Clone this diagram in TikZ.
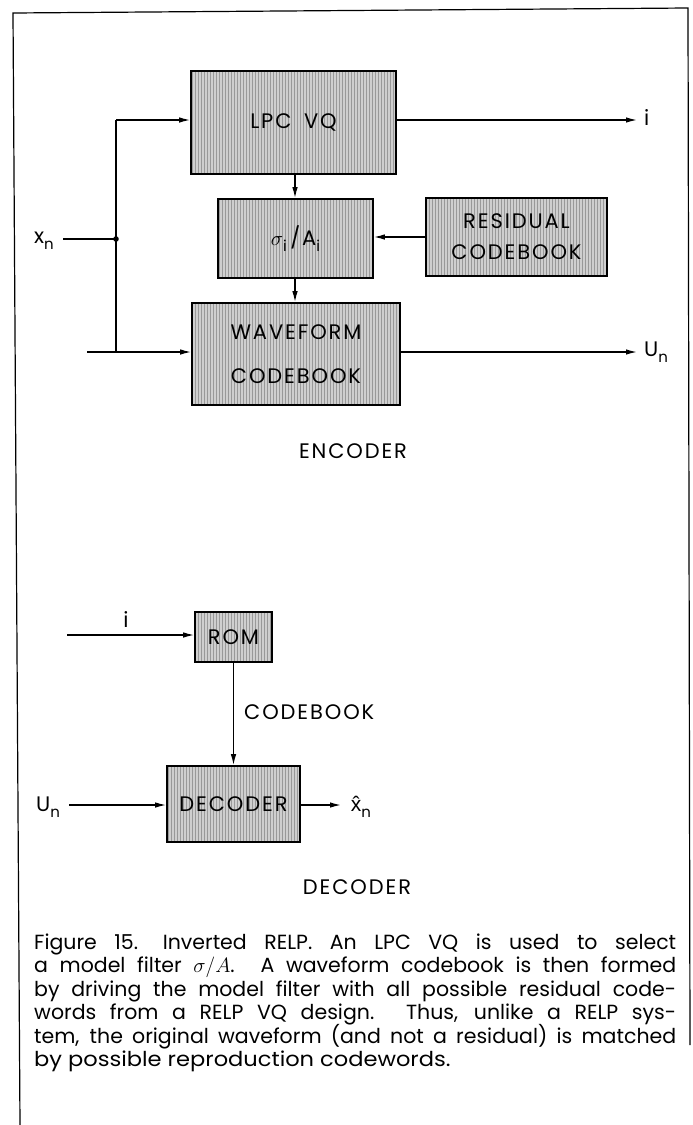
\documentclass[tikz,border=0pt]{standalone}
\usepackage{fontspec}
\setmainfont{Poppins}
\newfontfamily\labfont[LetterSpace=9]{Poppins}
\newfontfamily\lib{Liberation Sans}
\usetikzlibrary{arrows.meta,patterns}
\newcommand{\lsub}[1]{\raisebox{-0.5ex}{\fontsize{15}{15}\selectfont #1}}
\newcommand{\capline}[1]{\makebox[642pt][s]{#1}}
\begin{document}
\begin{tikzpicture}[x=1pt,y=-1pt,
  blk/.style={draw, line width=1.7pt, preaction={fill=black!19}, pattern=vertical lines, pattern color=black!40, inner sep=0pt, font=\labfont\fontsize{21}{26}\selectfont, align=center},
  conn/.style={line width=1.3pt, -{Latex[length=11pt,width=5.5pt]}},
  wire/.style={line width=1.3pt},
  lbl/.style={font=\labfont\fontsize{21}{26}\selectfont, inner sep=0pt},
  capt/.style={font=\fontsize{20.5}{24}\selectfont, inner sep=0pt, anchor=base west}]
\useasboundingbox (0,0) rectangle (693,1125);
% frame
\draw[line width=1.2pt] (20,1125) -- (13,13) -- (688,8) -- (690,1045);

% ---------- encoder ----------
\node[blk, minimum width=205pt, minimum height=103pt] (lpc) at (293.5,122.5) {LPC\hspace{0.6em}VQ};
\node[blk, minimum width=155pt, minimum height=79pt] (sig) at (295.5,238.5) {$\sigma$\lsub{i}\,/A\lsub{i}};
\node[blk, minimum width=181pt, minimum height=78pt] (res) at (516.5,237) {RESIDUAL\\[5pt]CODEBOOK};
\node[blk, minimum width=208pt, minimum height=102pt] (wf) at (296,354) {WAVEFORM\\[18pt]CODEBOOK};

\coordinate (top) at (116,120);
\coordinate (bot) at (116,352);
\coordinate (jn) at (116,239);
\coordinate (xin) at (63,239);
\coordinate (stub) at (87,352);
\coordinate (iout) at (637,120);
\coordinate (uout) at (637,352);

\node[lbl] (xn) at (44,241) {x\lsub{n}};
\node[lbl, anchor=west] (il) at (644,118) {i};
\node[lbl, anchor=west] (ul) at (644,352) {U\lsub{n}};

\draw[wire] (xin) -- (jn);
\draw[wire] (top) -- (bot);
\draw[wire] (stub) -- (bot);
\fill (jn) circle (2.8pt);
\draw[conn] (top) -- (lpc.west |- top);
\draw[conn] (bot) -- (wf.west |- bot);
\draw[conn] (lpc.east |- iout) -- (iout);
\draw[conn] (wf.east |- uout) -- (uout);
\draw[conn] (lpc.south -| 295,0) -- (sig.north -| 295,0);
\draw[conn] (sig.south -| 295,0) -- (wf.north -| 295,0);
\draw[conn] (res.west) -- (sig.east |- res.west);

\node[lbl] (enc) at (353,451) {ENCODER};

% ---------- decoder ----------
\node[blk, minimum width=77pt, minimum height=50pt] (rom) at (233.5,637) {ROM};
\node[blk, minimum width=133pt, minimum height=76pt] (dec) at (233.5,804) {DECODER};

\coordinate (iin) at (67,635);
\coordinate (uin) at (69,805);
\coordinate (xout) at (341,805);

\node[lbl] (il2) at (126,620) {i};
\node[lbl] (un2) at (48,807) {U\lsub{n}};
\node[lbl] (xh) at (361,807) {{\lib\^{x}}\lsub{n}};
\node[lbl, anchor=west] (cb) at (244,712) {CODEBOOK};

\draw[conn] (iin) -- (rom.west |- iin);
\draw[conn] (rom.south) -- (dec.north);
\draw[conn] (uin) -- (dec.west |- uin);
\draw[conn] (dec.east |- xout) -- (xout);

\node[lbl] (decl) at (357,887) {DECODER};

% ---------- caption ----------
\node[capt] (c1) at (34,949) {\capline{Figure 15.\hspace{1.2em}Inverted RELP. An LPC VQ is used to select}};
\node[capt] (c2) at (34,972.5) {\capline{a model filter $\sigma/A$. A waveform codebook is then formed}};
\node[capt] (c3) at (34,996) {\capline{by driving the model filter with all possible residual code-}};
\node[capt] (c4) at (34,1019.5) {\capline{words from a RELP VQ design. Thus, unlike a RELP sys-}};
\node[capt] (c5) at (34,1043) {\capline{tem, the original waveform (and not a residual) is matched}};
\node[capt] (c6) at (34,1066.5) {\scalebox{1.1}[1]{by possible reproduction codewords.}};
\end{tikzpicture}
\end{document}
